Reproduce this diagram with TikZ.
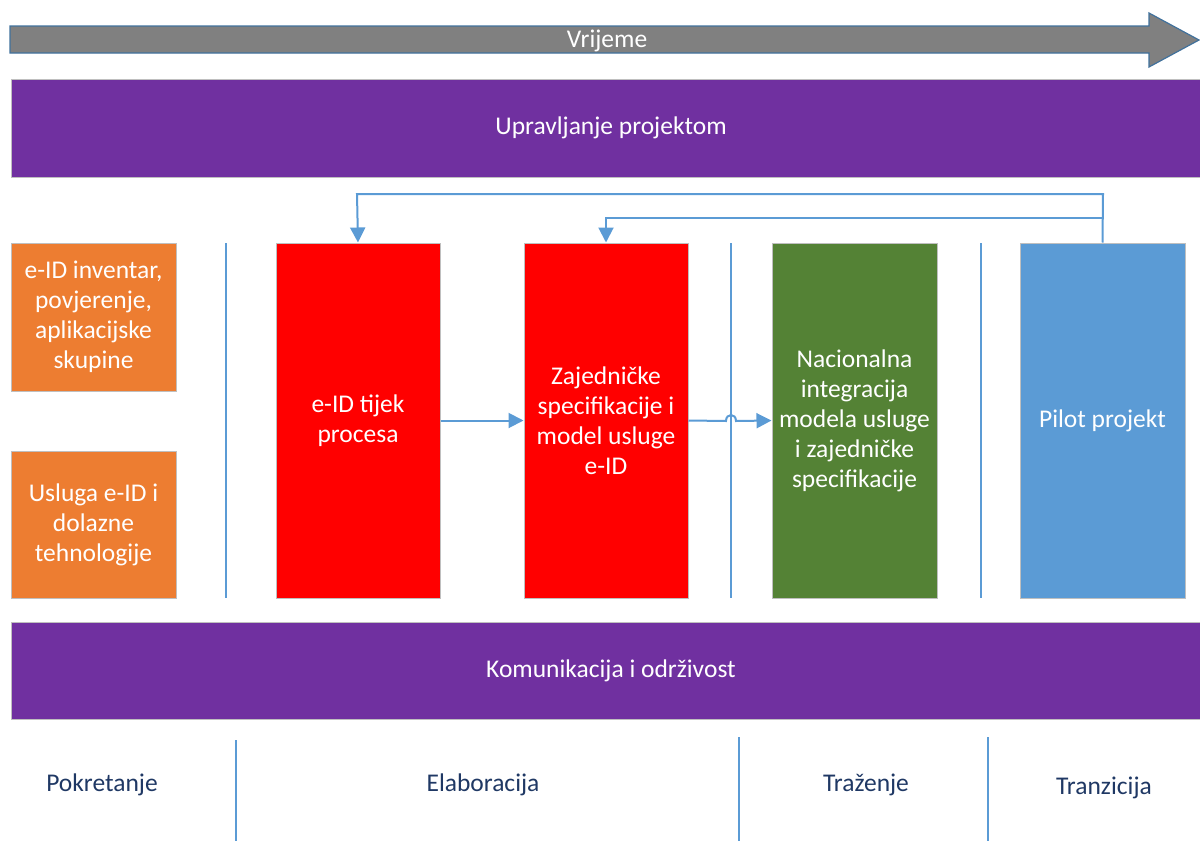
\documentclass[tikz,border=0pt]{standalone}
\usepackage{fontspec}
\setmainfont{Carlito}
\usetikzlibrary{arrows.meta}
\definecolor{purp}{HTML}{7030A0}
\definecolor{orng}{HTML}{ED7D31}
\definecolor{grn}{HTML}{548235}
\definecolor{lblue}{HTML}{5B9BD5}
\definecolor{navy}{HTML}{1F3864}
\definecolor{bord}{HTML}{BFBFBF}
\definecolor{arrbord}{HTML}{41719C}
\tikzset{
  box/.style={draw=bord, line width=1pt, text=white, align=center, inner sep=0pt, font=\fontsize{25.5}{30}\selectfont},
  conn/.style={draw=lblue, line width=2pt},
  tip/.style={-{Triangle[length=15pt,width=15pt]}},
  sep/.style={draw=lblue, line width=1.5pt},
  phase/.style={text=navy, font=\fontsize{25.5}{30}\selectfont},
}
\begin{document}
\begin{tikzpicture}[x=1pt,y=-1pt]
\useasboundingbox (0,0) rectangle (1200,841);
% time arrow
\draw[fill=gray, draw=arrbord, line width=1.2pt]
  (10,26) -- (1149,26) -- (1149,13) -- (1199,40) -- (1149,67) -- (1149,53) -- (10,53) -- cycle;
\node[text=white, font=\fontsize{25.5}{30}\selectfont] (time) at (607,41) {Vrijeme};
% bars
\node[box, fill=purp, minimum width=1200pt, minimum height=98pt] (up) at (611,128) {\raisebox{-2pt}{Upravljanje projektom}};
\node[box, fill=purp, minimum width=1200pt, minimum height=97pt] (kom) at (611,671) {\raisebox{-2pt}{Komunikacija i održivost}};
% orange boxes
\node[box, fill=orng, minimum width=165pt, minimum height=148pt] (o1) at (93.5,317) {e-ID inventar,\\povjerenje,\\aplikacijske\\skupine};
\node[box, fill=orng, minimum width=165pt, minimum height=147pt] (o2) at (93.5,524.5) {Usluga e-ID i\\dolazne\\tehnologije};
% main boxes
\node[box, fill=red, minimum width=164pt, minimum height=355pt] (r1) at (358,420.5) {e-ID tijek\\procesa};
\node[box, fill=red, minimum width=164pt, minimum height=355pt] (r2) at (606,420.5) {Zajedničke\\specifikacije i\\model usluge\\e-ID};
\node[box, fill=grn, minimum width=165pt, minimum height=355pt] (g) at (854.5,420.5) {Nacionalna\\integracija\\modela usluge\\i zajedničke\\specifikacije};
\node[box, fill=lblue, minimum width=165pt, minimum height=355pt] (b) at (1102.5,420.5) {\raisebox{-2pt}{Pilot projekt}};
% separators
\coordinate (s1t) at (226,243); \coordinate (s1b) at (226,598);
\coordinate (s2t) at (731,243); \coordinate (s2b) at (731,598);
\coordinate (s3t) at (981,243); \coordinate (s3b) at (981,598);
\draw[sep] (s1t) -- (s1b);
\draw[sep] (s2t) -- (s2b);
\draw[sep] (s3t) -- (s3b);
\coordinate (p1t) at (236,740); \coordinate (p1b) at (236,841);
\coordinate (p2t) at (739,737); \coordinate (p2b) at (739,841);
\coordinate (p3t) at (988,737); \coordinate (p3b) at (988,841);
\draw[sep] (p1t) -- (p1b);
\draw[sep] (p2t) -- (p2b);
\draw[sep] (p3t) -- (p3b);
% phases
\node[phase] (ph1) at (102,785) {Pokretanje};
\node[phase] (ph2) at (483,785) {Elaboracija};
\node[phase] (ph3) at (866,785) {Traženje};
\node[phase] (ph4) at (1104,788) {Tranzicija};
% connectors
\draw[conn, tip] (r1.east) -- (r2.west);
\draw[conn, tip] (r2.east) -- (726,421) .. controls (726,413) and (736,413) .. (736,421) -- (g.west);
\draw[conn, tip] (b.north) -- (1103,194) -- (357,194) -- (r1.north);
\draw[conn, tip] (1103,218) -- (606,218) -- (r2.north);
\end{tikzpicture}
\end{document}
